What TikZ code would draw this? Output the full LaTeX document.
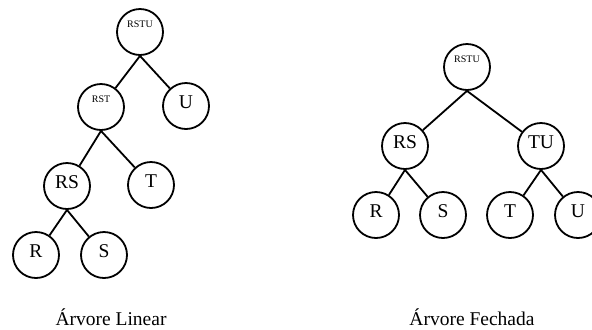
\documentclass[tikz,border=0pt]{standalone}
\usepackage{fontspec}
\setmainfont{Liberation Serif}
\begin{document}
\begin{tikzpicture}[x=1bp,y=-1bp,
  every node/.style={inner sep=0pt},
  setnode/.style={draw,circle,line width=1.8bp,minimum size=46bp,
    font=\fontsize{19.5bp}{22bp}\selectfont,text height=13bp,text depth=8bp},
  smallnode/.style={draw,circle,line width=1.8bp,minimum size=46bp,
    font=\fontsize{10bp}{12bp}\selectfont,text height=6.6bp,text depth=15bp},
  branch/.style={line width=1.8bp},
  caption/.style={font=\fontsize{19.5bp}{22bp}\selectfont,anchor=base}]
\useasboundingbox (0,0) rectangle (592,329);

% linear tree
\node[smallnode] (lRSTU) at (140,32) {RSTU};
\node[smallnode] (lRST) at (101,107) {RST};
\node[setnode] (lU) at (186,106) {U};
\node[setnode] (lRS) at (67,186) {RS};
\node[setnode] (lT) at (151,185) {T};
\node[setnode] (lR) at (36,255) {R};
\node[setnode] (lS) at (104,255) {S};

\draw[branch] (lRSTU.south) -- (lRST);
\draw[branch] (lRSTU.south) -- (lU);
\draw[branch] (lRST.south) -- (lRS);
\draw[branch] (lRST.south) -- (lT);
\draw[branch] (lRS.south) -- (lR);
\draw[branch] (lRS.south) -- (lS);

% balanced tree
\node[smallnode] (fRSTU) at (467,67) {RSTU};
\node[setnode] (fRS) at (405,146) {RS};
\node[setnode] (fTU) at (541,146) {TU};
\node[setnode] (fR) at (376,215) {R};
\node[setnode] (fS) at (443,215) {S};
\node[setnode] (fT) at (510,215) {T};
\node[setnode] (fU) at (578,215) {U};

\draw[branch] (fRSTU.south) -- (fRS);
\draw[branch] (fRSTU.south) -- (fTU);
\draw[branch] (fRS.south) -- (fR);
\draw[branch] (fRS.south) -- (fS);
\draw[branch] (fTU.south) -- (fT);
\draw[branch] (fTU.south) -- (fU);

% captions
\node[caption] (capL) at (111,325) {Árvore Linear};
\node[caption] (capF) at (472,325) {Árvore Fechada};
\end{tikzpicture}
\end{document}
